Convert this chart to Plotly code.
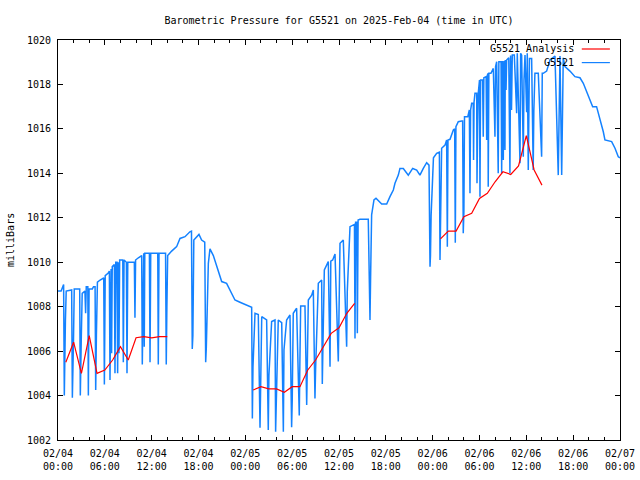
import plotly.graph_objects as go

# ---------------- data ----------------
# hours since 2025-02-04 00:00 UTC
analysis_hours = [1, 2, 3, 4, 5, 6, 7, 8, 9, 10, 11, 12, 13, 14,
                  None,
                  25, 26, 27, 28, 29, 30, 31, 32, 33, 34, 35, 36, 37, 38,
                  None,
                  49, 50, 51, 52, 53, 54, 55, 56, 57, 58, 59, 60, 61, 62]
analysis_mb = [1005.5, 1006.4, 1005.0, 1006.7, 1005.0, 1005.15, 1005.6, 1006.2, 1005.6, 1006.6,
               1006.65, 1006.6, 1006.65, 1006.65,
               None,
               1004.25, 1004.4, 1004.3, 1004.3, 1004.15, 1004.4, 1004.4, 1005.15, 1005.6, 1006.2,
               1006.8, 1007.05, 1007.7, 1008.15,
               None,
               1011.05, 1011.4, 1011.4, 1012.05, 1012.2, 1012.87, 1013.1, 1013.62, 1014.07, 1013.95,
               1014.33, 1015.7, 1014.15, 1013.47]

station_hours = [
    0.00, 0.40, 0.72, 0.81, 0.95, 1.05, 1.75, 1.84, 1.98, 2.08, 2.78, 2.86, 2.98, 3.10, 3.45, 3.54,
    3.62, 3.82, 3.89, 3.98, 4.40, 4.55, 4.75, 4.83, 4.92, 5.05, 5.40, 5.86, 5.94, 6.05, 6.40, 6.58,
    6.66, 6.80, 6.87, 6.95, 7.22, 7.30, 7.40, 7.56, 7.64, 7.74, 7.81, 7.90, 8.30, 8.37, 8.46, 8.76,
    8.84, 8.94, 9.40, 9.78, 9.86, 9.94, 10.30, 10.72, 10.80, 10.90, 10.98, 11.05, 11.12, 11.71,
    11.79, 11.88, 12.78, 12.85, 12.94, 13.78, 13.87, 13.95, 14.05, 14.56, 15.20, 15.63, 16.27, 16.90,
    17.10, 17.20, 17.28, 17.40, 18.06, 18.40, 18.80, 18.92, 19.00, 19.26, 19.47, 19.90, 20.33, 20.97,
    21.60, 22.03, 22.67, 23.31, 24.17, 24.81, 24.90, 24.98, 25.24, 25.66, 25.88, 25.96, 26.10, 26.73,
    26.94, 27.02, 27.37, 27.80, 27.88, 27.96, 28.22, 28.66, 28.87, 28.95, 29.29, 29.72, 29.93, 30.01,
    30.14, 30.57, 30.91, 30.99, 31.09, 31.64, 31.86, 32.07, 32.50, 32.71, 32.92, 33.00, 33.35, 33.78,
    33.86, 33.94, 34.12, 34.63, 34.85, 34.95, 35.19, 35.49, 35.91, 36.13, 36.55, 36.98, 37.06, 37.41,
    37.75, 37.98, 38.05, 38.13, 38.28, 38.35, 38.45, 38.69, 39.75, 39.97, 40.05, 40.18, 40.48, 40.74,
    41.47, 42.11, 42.53, 42.96, 43.17, 43.60, 43.81, 44.24, 44.88, 45.44, 45.95, 46.37, 46.80, 47.23,
    47.53, 47.66, 47.72, 47.80, 47.95, 48.10, 48.51, 48.86, 48.94, 49.02, 49.15, 49.58, 49.79, 49.88,
    49.96, 50.22, 50.65, 50.82, 50.90, 50.98, 51.28, 51.72, 51.84, 51.92, 52.00, 52.08, 52.50, 52.70,
    52.78, 52.86, 53.00, 53.20, 53.24, 53.30, 53.42, 53.64, 53.68, 53.76, 53.84, 54.00, 54.06, 54.14,
    54.40, 54.48, 54.56, 54.85, 54.92, 55.00, 55.08, 55.12, 55.20, 55.47, 55.77, 55.98, 56.06, 56.20,
    56.40, 56.48, 56.76, 56.84, 56.92, 57.05, 57.12, 57.26, 57.30, 57.40, 57.48, 57.75, 57.90, 57.98,
    58.10, 58.20, 58.46, 58.76, 58.84, 59.19, 59.27, 59.40, 59.61, 59.70, 59.83, 60.04, 60.12, 60.25,
    60.32, 60.40, 60.68, 60.88, 60.96, 61.10, 61.53, 61.96, 62.04, 62.17, 62.60, 63.03, 63.67, 64.09,
    64.20, 64.31, 64.53, 64.60, 64.73, 64.95, 65.59, 66.23, 66.87, 67.30, 67.73, 68.15, 68.50, 69.00,
    69.43, 69.86, 70.07, 70.93, 71.36, 71.78, 72.00]
station_mb = [
    1008.70, 1008.70, 1009.00, 1004.00, 1007.40, 1008.70, 1008.75, 1003.90, 1006.40, 1008.80, 1008.80, 1004.00, 1006.50, 1008.60, 1008.70, 1007.70,
    1008.90, 1008.90, 1004.00, 1008.80, 1008.80, 1008.90, 1008.90, 1004.25, 1006.70, 1009.10, 1009.20, 1009.30, 1004.50, 1009.40, 1009.50, 1009.60,
    1004.70, 1009.70, 1005.90, 1009.80, 1009.90, 1005.00, 1010.00, 1010.00, 1005.00, 1010.00, 1005.90, 1010.10, 1010.10, 1005.50, 1010.10, 1010.00,
    1005.00, 1010.00, 1010.00, 1010.00, 1007.50, 1010.10, 1010.20, 1010.30, 1005.40, 1010.40, 1010.40, 1006.20, 1010.40, 1010.40,
    1005.50, 1010.40, 1010.40, 1005.40, 1010.40, 1010.40, 1005.40, 1008.00, 1010.30, 1010.50, 1010.70, 1011.07, 1011.15, 1011.37,
    1011.40, 1006.10, 1006.70, 1011.00, 1011.25, 1011.00, 1010.90, 1005.50, 1006.15, 1009.95, 1010.60, 1010.30, 1009.80, 1009.13,
    1009.05, 1008.75, 1008.30, 1008.20, 1008.07, 1007.97, 1002.97, 1005.30, 1007.70, 1007.65, 1002.55, 1004.35, 1007.55, 1007.40,
    1002.45, 1004.90, 1007.33, 1007.40, 1002.37, 1003.60, 1007.40, 1007.28, 1002.37, 1006.05, 1007.40, 1007.63, 1002.57, 1003.80,
    1007.70, 1007.93, 1003.10, 1005.53, 1008.03, 1008.03, 1003.57, 1008.30, 1008.52, 1008.75, 1003.87, 1005.15, 1009.05, 1009.20,
    1004.52, 1006.20, 1009.65, 1010.03, 1005.30, 1010.05, 1010.10, 1010.37, 1005.53, 1010.85, 1011.00, 1006.20, 1008.67, 1011.60,
    1011.67, 1011.70, 1006.57, 1011.80, 1011.80, 1006.80, 1011.90, 1011.93, 1011.93, 1007.40, 1009.35, 1012.13, 1012.80, 1012.88,
    1012.62, 1012.62, 1012.95, 1013.25, 1013.55, 1013.92, 1014.22, 1014.22, 1013.92, 1014.22, 1014.15, 1013.92, 1014.22, 1014.48,
    1014.37, 1009.80, 1010.30, 1012.10, 1013.10, 1014.70, 1014.90, 1014.95, 1010.10, 1012.57, 1015.13, 1015.27, 1015.50, 1010.70,
    1015.50, 1015.53, 1015.95, 1016.00, 1010.88, 1016.10, 1016.32, 1016.35, 1016.35, 1011.30, 1012.27, 1016.55, 1016.55, 1016.85,
    1013.10, 1016.85, 1017.15, 1017.15, 1014.60, 1017.20, 1017.60, 1017.60, 1013.55, 1016.10, 1017.60, 1018.20, 1012.95, 1018.20,
    1018.20, 1015.65, 1018.30, 1018.35, 1015.50, 1018.40, 1018.50, 1013.40, 1018.50, 1018.50, 1018.72, 1015.65, 1018.80, 1019.02,
    1014.00, 1019.02, 1019.02, 1014.00, 1019.05, 1014.60, 1019.05, 1015.05, 1019.10, 1017.75, 1019.10, 1019.20, 1014.00, 1019.30,
    1016.85, 1019.32, 1019.32, 1016.70, 1019.40, 1014.45, 1019.40, 1019.32, 1014.75, 1018.20, 1019.32, 1016.75, 1019.40, 1014.15,
    1016.50, 1019.17, 1019.17, 1014.15, 1016.80, 1018.50, 1018.50, 1014.75, 1018.50, 1018.50, 1018.60, 1019.10, 1019.28, 1013.92,
    1016.60, 1019.28, 1013.92, 1015.50, 1019.20, 1018.80, 1018.60, 1018.35, 1018.30, 1018.05, 1017.67, 1017.30, 1017.00, 1017.00,
    1016.48, 1015.87, 1015.50, 1015.43, 1015.13, 1014.75, 1014.70]

tick_hours = [0, 6, 12, 18, 24, 30, 36, 42, 48, 54, 60, 66, 72]
tick_labels = ["02/04<br>00:00", "02/04<br>06:00", "02/04<br>12:00", "02/04<br>18:00",
               "02/05<br>00:00", "02/05<br>06:00", "02/05<br>12:00", "02/05<br>18:00",
               "02/06<br>00:00", "02/06<br>06:00", "02/06<br>12:00", "02/06<br>18:00",
               "02/07<br>00:00"]
y_ticks = [1002, 1004, 1006, 1008, 1010, 1012, 1014, 1016, 1018, 1020]

RED = "#ff0000"
BLUE = "#1482ff"
FONT = "DejaVu Sans Mono"

fig = go.Figure()
fig.add_trace(go.Scatter(x=station_hours, y=station_mb, mode="lines", name="G5521",
                         line=dict(color=BLUE, width=1.5), showlegend=False))
fig.add_trace(go.Scatter(x=analysis_hours, y=analysis_mb, mode="lines", name="G5521 Analysis",
                         line=dict(color=RED, width=1.2), connectgaps=False, showlegend=False))

axis_common = dict(showline=True, linecolor="black", linewidth=1, mirror="allticks",
                   ticks="inside", ticklen=5, tickcolor="black", showgrid=False, zeroline=False,
                   tickfont=dict(family=FONT, size=10, color="black"))

fig.update_xaxes(range=[0, 72], tickmode="array", tickvals=tick_hours, ticktext=tick_labels,
                 ticklabelstandoff=4,
                 minor=dict(tickmode="linear", tick0=0, dtick=2, ticks="inside", ticklen=3,
                            tickcolor="black", showgrid=False),
                 **axis_common)
fig.update_yaxes(range=[1002, 1020], tickmode="array", tickvals=y_ticks,
                 ticktext=[str(v) for v in y_ticks], ticklabelstandoff=4,
                 **axis_common)

# y-axis title
fig.add_annotation(xref="paper", yref="paper", x=0, y=0.5, xshift=-48, text="milliBars",
                   textangle=-90, showarrow=False, xanchor="center", yanchor="middle",
                   font=dict(family=FONT, size=10, color="black"))

# legend (gnuplot style: text then line sample)
legend_items = [("G5521 Analysis", RED), ("G5521", BLUE)]
for i, (label, col) in enumerate(legend_items):
    yy = 0.9775 - i * 0.034
    fig.add_annotation(xref="paper", yref="paper", x=0.922, y=yy, text=label, showarrow=False,
                       xanchor="right", yanchor="middle",
                       font=dict(family=FONT, size=10, color="black"))
    fig.add_shape(type="line", xref="paper", yref="paper", x0=0.932, x1=0.982, y0=yy, y1=yy,
                  line=dict(color=col, width=1.2))

fig.update_layout(
    width=640, height=480,
    margin=dict(l=58, r=20, t=40, b=40, autoexpand=False),
    paper_bgcolor="white", plot_bgcolor="white",
    title=dict(text="Barometric Pressure for G5521 on 2025-Feb-04 (time in UTC)",
               x=0.5, xanchor="center", xref="paper",
               y=1 - 20 / 480, yanchor="middle", yref="container",
               font=dict(family=FONT, size=10, color="black")),
    showlegend=False,
    hovermode=False,
)

# remove the default 8px page margin so the 640x480 figure fills the window exactly
fig.write_html("out.html",
               config={"displayModeBar": False, "staticPlot": True},
               post_script="document.body.style.margin='0';document.body.style.overflow='hidden';")
